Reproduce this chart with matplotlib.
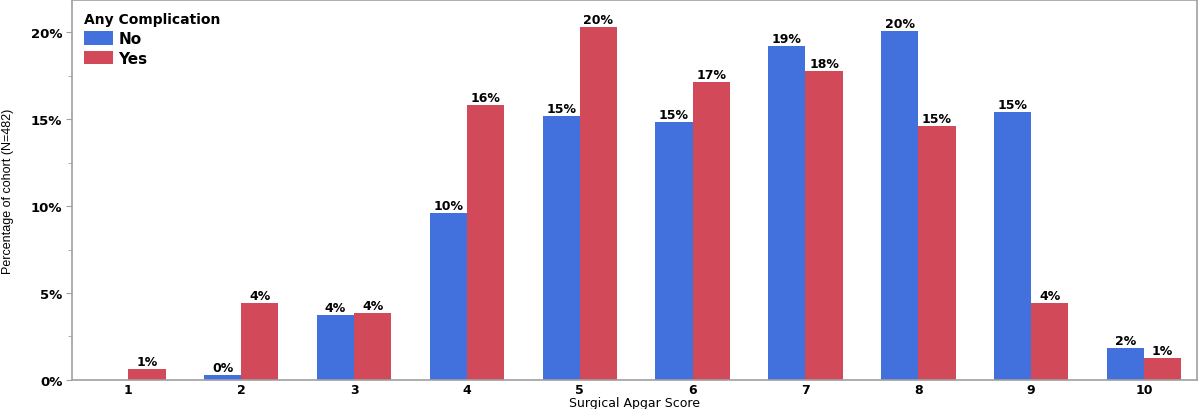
import numpy as np
import matplotlib
matplotlib.use('Agg')
from matplotlib import pyplot as plt
from matplotlib.ticker import MultipleLocator, PercentFormatter

plt.rcParams['font.family'] = ['DejaVu Sans']

# Surgical Apgar score and share of cohort (%)
scores = [1, 2, 3, 4, 5, 6, 7, 8, 9, 10]
pct_no = [0.0, 0.29, 3.72, 9.6, 15.17, 14.87, 19.2, 20.1, 15.44, 1.84]
pct_yes = [0.63, 4.43, 3.83, 15.84, 20.29, 17.13, 17.78, 14.6, 4.43, 1.26]
labels_no = [None, '0%', '4%', '10%', '15%', '15%', '19%', '20%', '15%', '2%']
labels_yes = ['1%', '4%', '4%', '16%', '20%', '17%', '18%', '15%', '4%', '1%']

blue = '#4270DC'
red = '#D24A59'
grey = '#A0A0A0'

fig = plt.figure(figsize=(12, 4.1), dpi=100)
ax = fig.add_axes([0.06, 0.071, 0.9375, 0.926])

x = np.array(scores, dtype=float)
w = 0.33
bars_no = ax.bar(x - w / 2, pct_no, width=w, color=blue, label='No')
bars_yes = ax.bar(x + w / 2, pct_yes, width=w, color=red, label='Yes')

for bars, labs in ((bars_no, labels_no), (bars_yes, labels_yes)):
    for b, lab in zip(bars, labs):
        if lab is None:
            continue
        ax.text(b.get_x() + b.get_width() / 2, b.get_height() + 0.05, lab,
                ha='center', va='bottom', fontsize=9, fontweight='bold')

ax.set_xlim(0.5, 10.47)
ax.set_ylim(0, 21.85)
ax.set_xticks(scores)
ax.set_xticklabels([str(s) for s in scores], fontweight='bold', fontsize=9)
ax.yaxis.set_major_locator(MultipleLocator(5))
ax.yaxis.set_minor_locator(MultipleLocator(2.5))
ax.yaxis.set_major_formatter(PercentFormatter(decimals=0))
for t in ax.get_yticklabels():
    t.set_fontweight('bold')
    t.set_fontsize(9.5)
ax.tick_params(axis='x', length=0, pad=2)
ax.tick_params(axis='y', which='major', length=4, color=grey, pad=3)
ax.tick_params(axis='y', which='minor', length=3, color=grey)

for s in ax.spines.values():
    s.set_color(grey)
    s.set_linewidth(1.2)

ax.set_xlabel('Surgical Apgar Score', fontsize=9, labelpad=0)
ax.set_ylabel('Percentage of cohort (N=482)', fontsize=9, labelpad=12,
              family=['Liberation Sans Narrow', 'Liberation Sans'])

leg = ax.legend(title='Any Complication', loc='upper left', frameon=False,
                fontsize=11, title_fontsize=10, handlelength=1.9,
                handleheight=1.0, handletextpad=0.35, labelspacing=0.3,
                borderaxespad=0.4, bbox_to_anchor=(0.0, 1.0))
leg._legend_box.align = 'left'
leg.get_title().set_fontweight('bold')
for t in leg.get_texts():
    t.set_fontweight('bold')

plt.savefig('out.png', dpi=100)
plt.close(fig)
